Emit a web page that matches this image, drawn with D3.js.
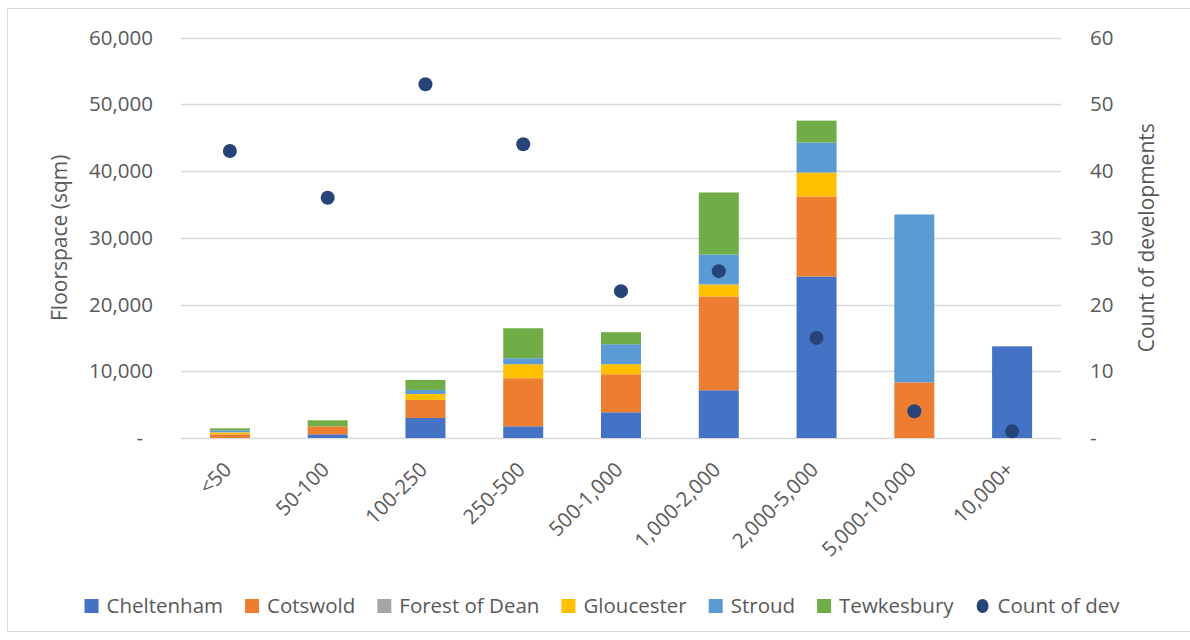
<!DOCTYPE html>
<html>
<head>
<meta charset="utf-8">
<script src="https://cdn.jsdelivr.net/npm/d3@7"></script>
<style>
  html, body { margin: 0; padding: 0; background: #fff; }
  svg { display: block; font-family: "Open Sans", "Noto Sans", sans-serif; }
</style>
</head>
<body>
<svg id="chart" width="1190" height="640"></svg>
<script>
const categories = ["<50", "50-100", "100-250", "250-500", "500-1,000", "1,000-2,000", "2,000-5,000", "5,000-10,000", "10,000+"];
const cheltenham   = [0,   550, 3000, 1750, 3850,  7150, 24200,     0, 13730];
const cotswold     = [550, 1200, 2700, 7200, 5700, 14050, 11980,  8340,     0];
const forestOfDean = [0,     0,    0,    0,    0,     0,     0,     0,     0];
const gloucester   = [300,   0,  900, 2100, 1500,  1800,  3590,     0,     0];
const stroud       = [300,   0,  600,  900, 3000,  4500,  4490, 25150,     0];
const tewkesbury   = [300, 900, 1500, 4490, 1800,  9280,  3290,     0,     0];
const countOfDev   = [43, 36, 53, 44, 22, 25, 15, 4, 1];
const seriesNames  = ["Cheltenham", "Cotswold", "Forest of Dean", "Gloucester", "Stroud", "Tewkesbury"];
const leftTicks    = [0, 10000, 20000, 30000, 40000, 50000, 60000];
const rightTicks   = [0, 10, 20, 30, 40, 50, 60];
const pointLabel   = "Count of dev";

const seriesValues = [cheltenham, cotswold, forestOfDean, gloucester, stroud, tewkesbury];
const colors = ["#4472C4", "#ED7D31", "#A5A5A5", "#FFC000", "#5B9BD5", "#70AD47"];
const dotColor = "#264478";
const textColor = "#595959";
const gridColor = "#D9D9D9";

const svg = d3.select("#chart");
const plot = { left: 181, right: 1061, top: 37.5, bottom: 438 };

// border
svg.append("rect").attr("x", 7.5).attr("y", 8.5).attr("width", 1190).attr("height", 623)
  .attr("fill", "none").attr("stroke", gridColor).attr("stroke-width", 1);

const x = d3.scaleBand().domain(categories).range([plot.left, plot.right])
  .paddingInner(0.59).paddingOuter(0.295);
const yL = d3.scaleLinear().domain([0, 60000]).range([plot.bottom, plot.top]);
const yR = d3.scaleLinear().domain([0, 60]).range([plot.bottom, plot.top]);

// gridlines
svg.append("g").selectAll("line").data(leftTicks).join("line")
  .attr("x1", plot.left).attr("x2", plot.right)
  .attr("y1", d => Math.round(yL(d)) + 0.5).attr("y2", d => Math.round(yL(d)) + 0.5)
  .attr("stroke", gridColor).attr("stroke-width", 1.3);

// left axis
const fmt = d3.format(",");
const leftAxis = d3.axisLeft(yL).tickValues(leftTicks).tickSize(0).tickPadding(0)
  .tickFormat(d => d === 0 ? "-" : fmt(d));
const gL = svg.append("g").attr("transform", `translate(153,0)`).call(leftAxis);
gL.select(".domain").remove();
gL.selectAll("text").attr("fill", textColor).style("font-size", "20.5px")
  .attr("font-family", "'Open Sans', sans-serif")
  .attr("dx", d => d === 0 ? -10 : 0);

// right axis
const rightAxis = d3.axisRight(yR).tickValues(rightTicks).tickSize(0).tickPadding(0)
  .tickFormat(d => d === 0 ? "-" : d);
const gR = svg.append("g").attr("transform", `translate(1090,0)`).call(rightAxis);
gR.select(".domain").remove();
gR.selectAll("text").attr("fill", textColor).style("font-size", "20.5px")
  .attr("font-family", "'Open Sans', sans-serif");

// stacked bars
const table = categories.map((c, i) => {
  const row = { cat: c };
  seriesNames.forEach((s, k) => row[s] = seriesValues[k][i]);
  return row;
});
const stacked = d3.stack().keys(seriesNames)(table);
const bw = 40;
svg.append("g").selectAll("g").data(stacked).join("g")
  .attr("fill", (d, i) => colors[i])
  .selectAll("rect").data(d => d).join("rect")
  .attr("x", d => x(d.data.cat) + x.bandwidth() / 2 - bw / 2)
  .attr("width", bw)
  .attr("y", d => yL(d[1]))
  .attr("height", d => Math.max(0, yL(d[0]) - yL(d[1])));

// dots
svg.append("g").selectAll("circle").data(countOfDev).join("circle")
  .attr("cx", (d, i) => x(categories[i]) + x.bandwidth() / 2)
  .attr("cy", d => yR(d))
  .attr("r", 7)
  .attr("fill", dotColor);

// category labels
svg.append("g").selectAll("text").data(categories).join("text")
  .attr("transform", d => `translate(${x(d) + x.bandwidth() / 2 + 3},471) rotate(-45)`)
  .attr("text-anchor", "end")
  .attr("fill", textColor)
  .style("font-size", "20.5px")
  .text(d => d);

// axis titles
svg.append("text")
  .attr("transform", `translate(67,${(plot.top + plot.bottom) / 2}) rotate(-90)`)
  .attr("text-anchor", "middle").attr("fill", textColor).style("font-size", "21px")
  .text("Floorspace (sqm)");
svg.append("text")
  .attr("transform", `translate(1154,${(plot.top + plot.bottom) / 2}) rotate(-90)`)
  .attr("text-anchor", "middle").attr("fill", textColor).style("font-size", "21px")
  .text("Count of developments");

// legend
const legendItems = seriesNames.map((n, i) => ({ name: n, color: colors[i], type: "rect" }))
  .concat([{ name: pointLabel, color: dotColor, type: "circle" }]);
const lg = svg.append("g");
let cursor = 0;
const legendY = 606;
legendItems.forEach((it, i) => {
  const g = lg.append("g").attr("transform", `translate(${cursor},0)`);
  if (it.type === "rect") {
    g.append("rect").attr("x", 0).attr("y", legendY - 7).attr("width", 14).attr("height", 14).attr("fill", it.color);
  } else {
    g.append("ellipse").attr("cx", 7).attr("cy", legendY).attr("rx", 6).attr("ry", 7).attr("fill", it.color);
  }
  const t = g.append("text").attr("x", 22).attr("y", legendY).attr("dy", "0.35em")
    .attr("fill", textColor).style("font-size", "20.5px").text(it.name);
  cursor += 22 + t.node().getComputedTextLength() + 22;
});
const totalW = cursor - 22;
lg.attr("transform", `translate(${602 - totalW / 2},0)`);
</script>
</body>
</html>
